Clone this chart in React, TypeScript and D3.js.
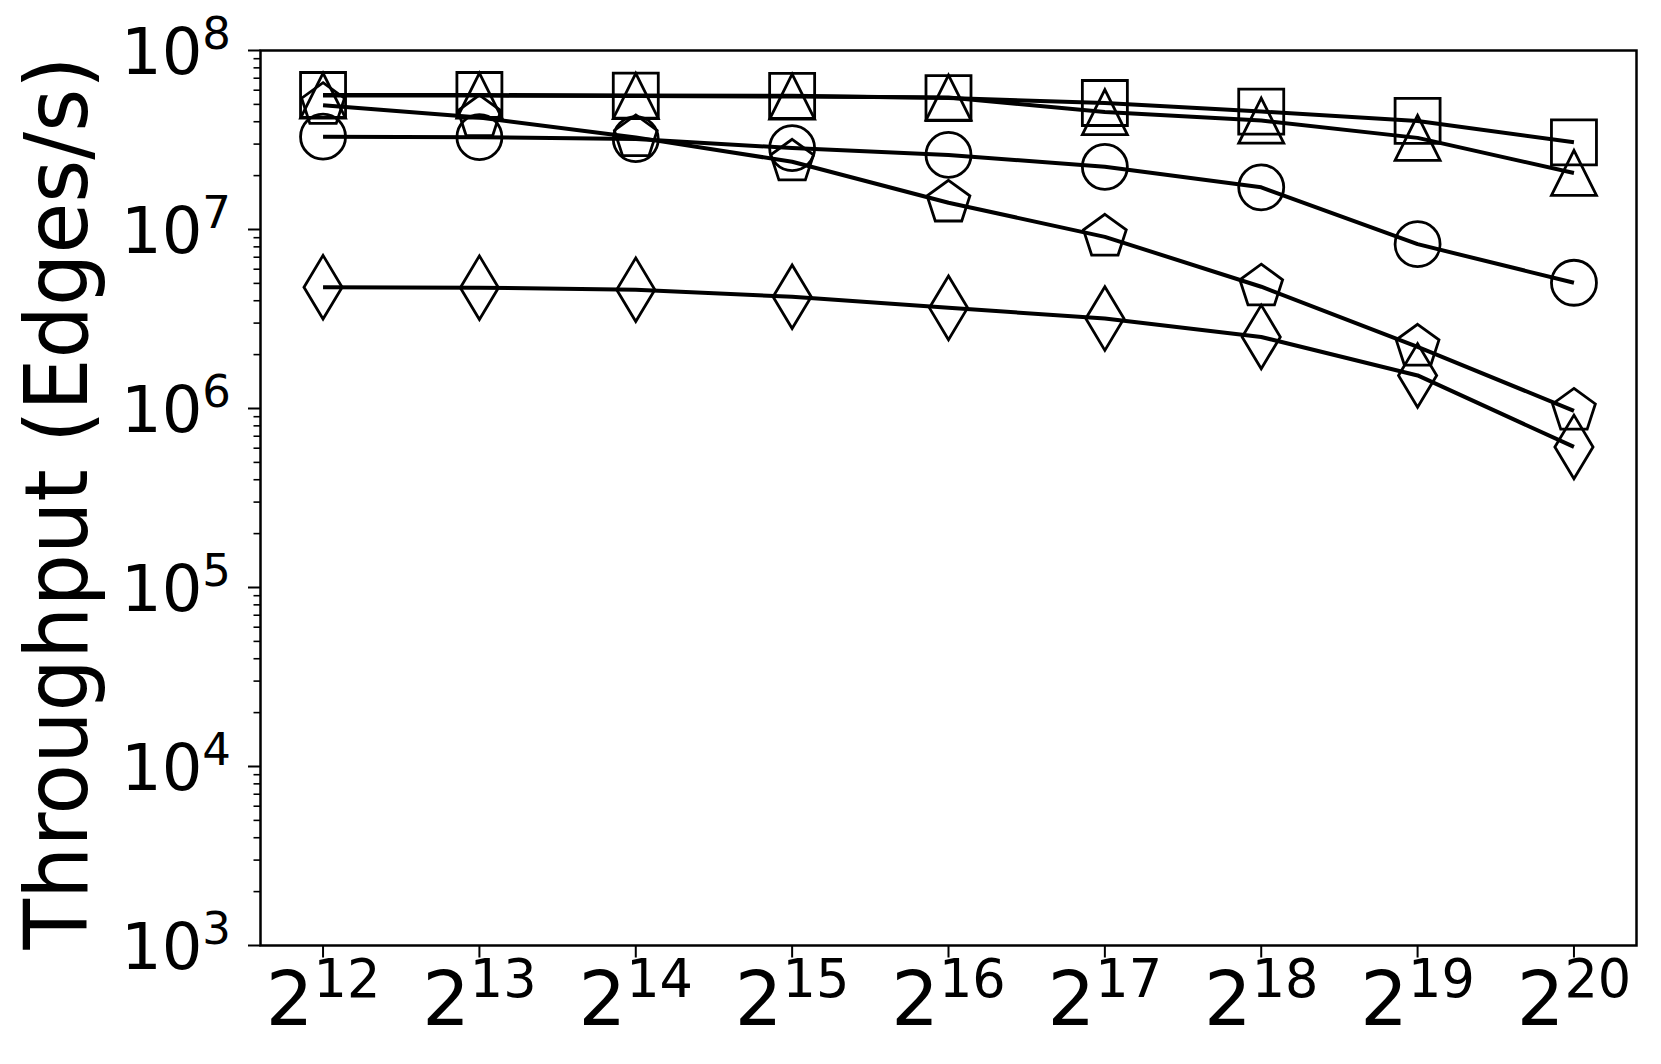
import React, { useRef, useEffect } from 'react';
import { select, scaleLog, line } from 'd3';

// graph sizes on the x axis (powers of two)
const exponents = [12, 13, 14, 15, 16, 17, 18, 19, 20];
const sizes = exponents.map(e => Math.pow(2, e));

// throughput, edges per second
const squareSeries = [5.64e7, 5.64e7, 5.6e7, 5.58e7, 5.42e7, 5.09e7, 4.56e7, 4.04e7, 3.07e7];
const triangleSeries = [5.6e7, 5.6e7, 5.57e7, 5.53e7, 5.46e7, 4.53e7, 4.06e7, 3.25e7, 2.07e7];
const circleSeries = [3.3e7, 3.28e7, 3.2e7, 2.85e7, 2.61e7, 2.24e7, 1.72e7, 8.28e6, 5.04e6];
const pentagonSeries = [4.95e7, 4.22e7, 3.27e7, 2.39e7, 1.41e7, 9.1e6, 4.79e6, 2.21e6, 9.7e5];
const diamondSeries = [4.76e6, 4.73e6, 4.61e6, 4.21e6, 3.65e6, 3.18e6, 2.51e6, 1.53e6, 6.1e5];

const yTickExps = [3, 4, 5, 6, 7, 8];
const yLabel = 'Throughput (Edges/s)';

const W = 1661, H = 1064;
const left = 260.5, right = 1636.5, top = 50.5, bottom = 945.5;
const ms = 45;
const FONT = 'DejaVu Sans';

const markerPath = (kind, r = ms / 2) => {
    if (kind === 'square') return `M${-r},${-r}H${r}V${r}H${-r}Z`;
    if (kind === 'triangle') return `M0,${-r}L${r},${r}L${-r},${r}Z`;
    if (kind === 'circle') return `M${r},0A${r},${r} 0 1,1 ${-r},0A${r},${r} 0 1,1 ${r},0Z`;
    if (kind === 'pentagon') {
        const pts = [0, 1, 2, 3, 4].map(i => {
            const a = -Math.PI / 2 + i * 2 * Math.PI / 5;
            return [r * Math.cos(a), r * Math.sin(a)];
        });
        return 'M' + pts.map(p => p.join(',')).join('L') + 'Z';
    }
    // thin diamond
    const h = ms * Math.SQRT2 / 2, w = h * 0.6;
    return `M0,${-h}L${w},0L0,${h}L${-w},0Z`;
};

const series = [
    { kind: 'square', values: squareSeries },
    { kind: 'triangle', values: triangleSeries },
    { kind: 'circle', values: circleSeries },
    { kind: 'pentagon', values: pentagonSeries },
    { kind: 'diamond', values: diamondSeries },
];

const App = () => {
    const svgRef = useRef();

    useEffect(() => {
        const svg = select(svgRef.current);
        svg.selectAll('*').remove();

        const xScale = scaleLog().base(2)
            .domain([Math.pow(2, 11.6), Math.pow(2, 20.4)])
            .range([left, right]);
        const yScale = scaleLog()
            .domain([1e3, 1e8])
            .range([bottom, top]);

        // y ticks, major + minor
        const ticks = svg.append('g');
        yTickExps.forEach(e => {
            const y = yScale(Math.pow(10, e));
            ticks.append('line').attr('x1', left - 12.5).attr('x2', left).attr('y1', y).attr('y2', y)
                .attr('stroke', '#000').attr('stroke-width', 2);
            const t = ticks.append('text')
                .attr('x', 231).attr('y', y + 23.5)
                .attr('text-anchor', 'end')
                .attr('font-family', FONT)
                .attr('font-size', 64);
            t.append('tspan').text('10');
            t.append('tspan').attr('font-size', 45).attr('dy', -25).text(e);
            if (e < 8) {
                for (let m = 2; m <= 9; m++) {
                    const ym = yScale(m * Math.pow(10, e));
                    ticks.append('line').attr('x1', left - 7).attr('x2', left).attr('y1', ym).attr('y2', ym)
                        .attr('stroke', '#000').attr('stroke-width', 1.6);
                }
            }
        });

        // x ticks
        sizes.forEach((s, i) => {
            const x = xScale(s);
            ticks.append('line').attr('x1', x).attr('x2', x).attr('y1', bottom).attr('y2', bottom + 12)
                .attr('stroke', '#000').attr('stroke-width', 2);
            const t = ticks.append('text')
                .attr('x', x).attr('y', 1025)
                .attr('text-anchor', 'middle')
                .attr('font-family', FONT)
                .attr('font-size', 75);
            t.append('tspan').text('2');
            t.append('tspan').attr('font-size', 52.5).attr('dy', -28).text(exponents[i]);
        });

        // series
        const lineGen = line()
            .x((d, i) => xScale(sizes[i]))
            .y(d => yScale(d));

        series.forEach(sr => {
            svg.append('path')
                .attr('d', lineGen(sr.values))
                .attr('fill', 'none')
                .attr('stroke', '#000')
                .attr('stroke-width', 4)
                .attr('stroke-linejoin', 'round');
            svg.selectAll(null)
                .data(sr.values)
                .join('path')
                .attr('transform', (d, i) => `translate(${xScale(sizes[i])},${yScale(d)})`)
                .attr('d', markerPath(sr.kind))
                .attr('fill', 'none')
                .attr('stroke', '#000')
                .attr('stroke-width', 2.8);
        });

        // frame
        svg.append('rect')
            .attr('x', left).attr('y', top)
            .attr('width', right - left).attr('height', bottom - top)
            .attr('fill', 'none').attr('stroke', '#000').attr('stroke-width', 2.5);

        // y axis label
        svg.append('text')
            .attr('transform', `translate(87,503) rotate(-90)`)
            .attr('text-anchor', 'middle')
            .attr('font-family', FONT)
            .attr('font-size', 87)
            .attr('textLength', 893)
            .attr('lengthAdjust', 'spacingAndGlyphs')
            .text(yLabel);
    }, []);

    return (
        <div style={{ position: 'absolute', left: 0, top: 0, background: '#fff' }}>
            <svg ref={svgRef} width={W} height={H} style={{ display: 'block' }} />
        </div>
    );
};

export default App;
